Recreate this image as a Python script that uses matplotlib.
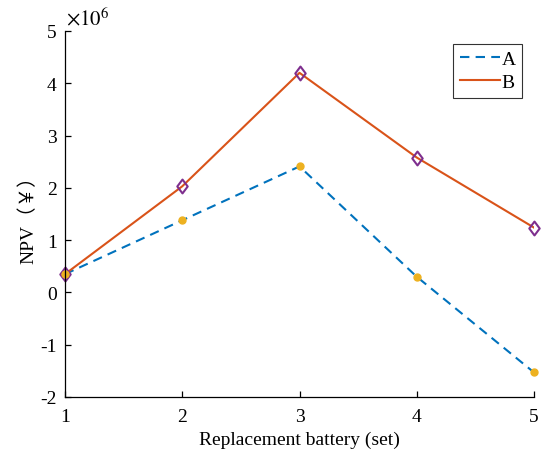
import matplotlib
matplotlib.use("Agg")
import matplotlib.pyplot as plt
from matplotlib.ticker import FuncFormatter
from matplotlib.path import Path

plt.rcParams['font.family'] = ['Liberation Serif', 'Noto Sans CJK SC']
plt.rcParams['mathtext.fontset'] = 'stix'

x = [1, 2, 3, 4, 5]
A = [0.35e6, 1.38e6, 2.41e6, 0.30e6, -1.53e6]
B = [0.35e6, 2.03e6, 4.20e6, 2.58e6, 1.24e6]
xticks = [1, 2, 3, 4, 5]
yticks = [-2e6, -1e6, 0, 1e6, 2e6, 3e6, 4e6, 5e6]

fig = plt.figure(figsize=(5.43, 4.52), dpi=100)
ax = fig.add_axes([65/543, 54/452, 469/543, 366/452])

cA = '#0072BD'
cB = '#D95319'
lA, = ax.plot(x, A, color=cA, lw=1.5, linestyle=(0, (4.5, 3)), label='A')
lB, = ax.plot(x, B, color=cB, lw=1.5, label='B')

diamond = Path([(0, 1), (0.75, 0), (0, -1), (-0.75, 0), (0, 1)],
               [Path.MOVETO, Path.LINETO, Path.LINETO, Path.LINETO, Path.CLOSEPOLY])
ax.plot(x, B, linestyle='none', marker=diamond, markersize=10, clip_on=False,
        markerfacecolor='none', markeredgecolor='#7E2F8E', markeredgewidth=1.5)
ax.plot(x, A, linestyle='none', marker='o', markersize=5, clip_on=False,
        markerfacecolor='#EDB120', markeredgecolor='#EDB120')

ax.set_xlim(1, 5)
ax.set_ylim(-2e6, 5e6)
ax.set_xticks(xticks)
ax.set_yticks(yticks)
ax.yaxis.set_major_formatter(FuncFormatter(lambda v, p: '%g' % (v / 1e6)))
ax.spines['top'].set_visible(False)
ax.spines['right'].set_visible(False)
for s in ['left', 'bottom']:
    ax.spines[s].set_linewidth(0.9)
ax.tick_params(direction='in', length=4, width=0.9, labelsize=14)
ax.tick_params(axis='x', pad=8)
ax.tick_params(axis='y', pad=6)

ax.set_xlabel('Replacement battery (set)', fontsize=14, labelpad=4)
ax.set_ylabel('NPV（￥）', fontsize=14, labelpad=2)
ax.text(0.003, 1.005, r'$\times10^{6}$', transform=ax.transAxes, fontsize=15,
        ha='left', va='bottom')

leg = ax.legend(handles=[lA, lB], loc='upper right', bbox_to_anchor=(0.975, 0.965),
                fontsize=14, frameon=True, fancybox=False, edgecolor='black',
                handlelength=2.1, handletextpad=0.05, borderpad=0.35, labelspacing=0.25,
                borderaxespad=0)
leg.get_frame().set_linewidth(0.8)

fig.savefig('out.png', dpi=100)
